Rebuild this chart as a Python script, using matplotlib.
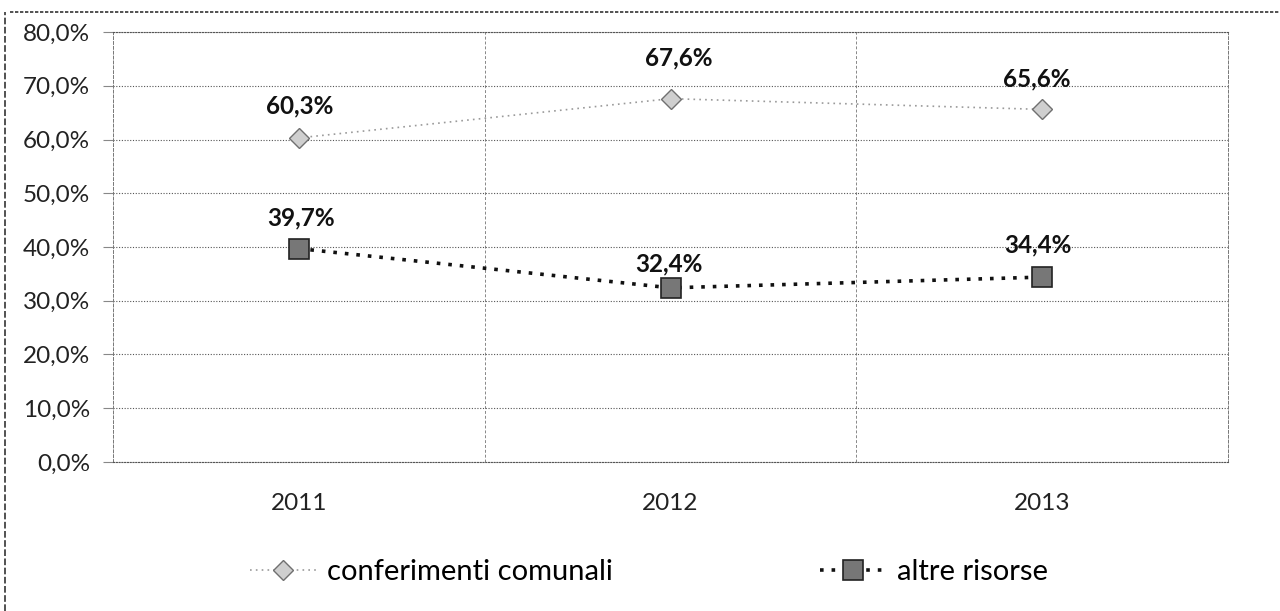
import matplotlib
matplotlib.use("Agg")
import matplotlib.pyplot as plt
from matplotlib.lines import Line2D
from matplotlib.ticker import FuncFormatter

years = ["2011", "2012", "2013"]
conferimenti = [60.3, 67.6, 65.6]
altre = [39.7, 32.4, 34.4]
yticks = [0, 10, 20, 30, 40, 50, 60, 70, 80]

plt.rcParams['font.family'] = ['Lato', 'DejaVu Sans']

fig = plt.figure(figsize=(12.8, 6.11), dpi=100)
ax = fig.add_axes([0.0883, 0.2439, 0.9594 - 0.0883, 0.9476 - 0.2439])

x = list(range(len(years)))
l1, = ax.plot(x, conferimenti, linestyle=(0, (1, 2.5)), color='#9a9a9a', linewidth=1.2,
              marker='D', markersize=10, markerfacecolor='#cfcfcf', markeredgecolor='#707070',
              markeredgewidth=1, label='conferimenti comunali', zorder=3)
l2, = ax.plot(x, altre, linestyle=(0, (1, 2.2)), color='#111111', linewidth=2.6,
              marker='s', markersize=14, markerfacecolor='#777777', markeredgecolor='#222222',
              markeredgewidth=1.2, label='altre risorse', zorder=3)

ax.set_xlim(-0.5, 2.5)
ax.set_ylim(0, 80)
ax.set_yticks(yticks)
ax.yaxis.set_major_formatter(FuncFormatter(lambda v, p: f"{v:.1f}%".replace('.', ',')))
ax.set_xticks(x)
ax.set_xticklabels(years)
ax.set_xticks([0.5, 1.5], minor=True)

ax.tick_params(axis='y', labelsize=17.5, length=7, width=0.8, color='#888888', pad=9.5, labelcolor='#222222')
ax.tick_params(axis='x', which='major', labelsize=17.5, length=0, pad=22, labelcolor='#222222')
ax.tick_params(axis='x', which='minor', length=0)

ax.grid(True, axis='y', which='major', linestyle=(0, (1, 1.5)), color='#555555', linewidth=0.8)
ax.grid(True, axis='x', which='minor', linestyle=(0, (3, 2)), color='#888888', linewidth=0.7)
for s in ['right', 'left']:
    ax.spines[s].set_linestyle((0, (3, 2)))
    ax.spines[s].set_color('#777777')
    ax.spines[s].set_linewidth(0.7)
for s in ['top', 'bottom']:
    ax.spines[s].set_linestyle((0, (1, 1.5)))
    ax.spines[s].set_color('#555555')
    ax.spines[s].set_linewidth(0.8)

def fmt(v):
    return f"{v:.1f}%".replace('.', ',')

offs1 = [(1, 32), (8, 41), (-5, 30)]
for xi, v, o in zip(x, conferimenti, offs1):
    ax.annotate(fmt(v), (xi, v), xytext=o, textcoords='offset pixels',
                ha='center', va='center', fontsize=17.5, fontweight='bold', color='#111111')
offs2 = [(2, 31), (-2, 24), (-4, 32)]
for xi, v, o in zip(x, altre, offs2):
    ax.annotate(fmt(v), (xi, v), xytext=o, textcoords='offset pixels',
                ha='center', va='center', fontsize=17.5, fontweight='bold', color='#111111')

fig.legend(handles=[l1, l2], loc='center', bbox_to_anchor=(0.507, 0.064), ncol=2,
           frameon=False, fontsize=21, columnspacing=7.1, handlelength=2.3, handletextpad=0.35)

# scanned page borders
fig.add_artist(Line2D([0.008, 1.0], [0.981, 0.981], transform=fig.transFigure,
                      color='#333333', linewidth=1.2, linestyle=(0, (2, 1))))
fig.add_artist(Line2D([0.004, 0.004], [0.0, 0.981], transform=fig.transFigure,
                      color='#333333', linewidth=1.2, linestyle=(0, (4, 1.5))))

fig.savefig("out.png", dpi=100)
